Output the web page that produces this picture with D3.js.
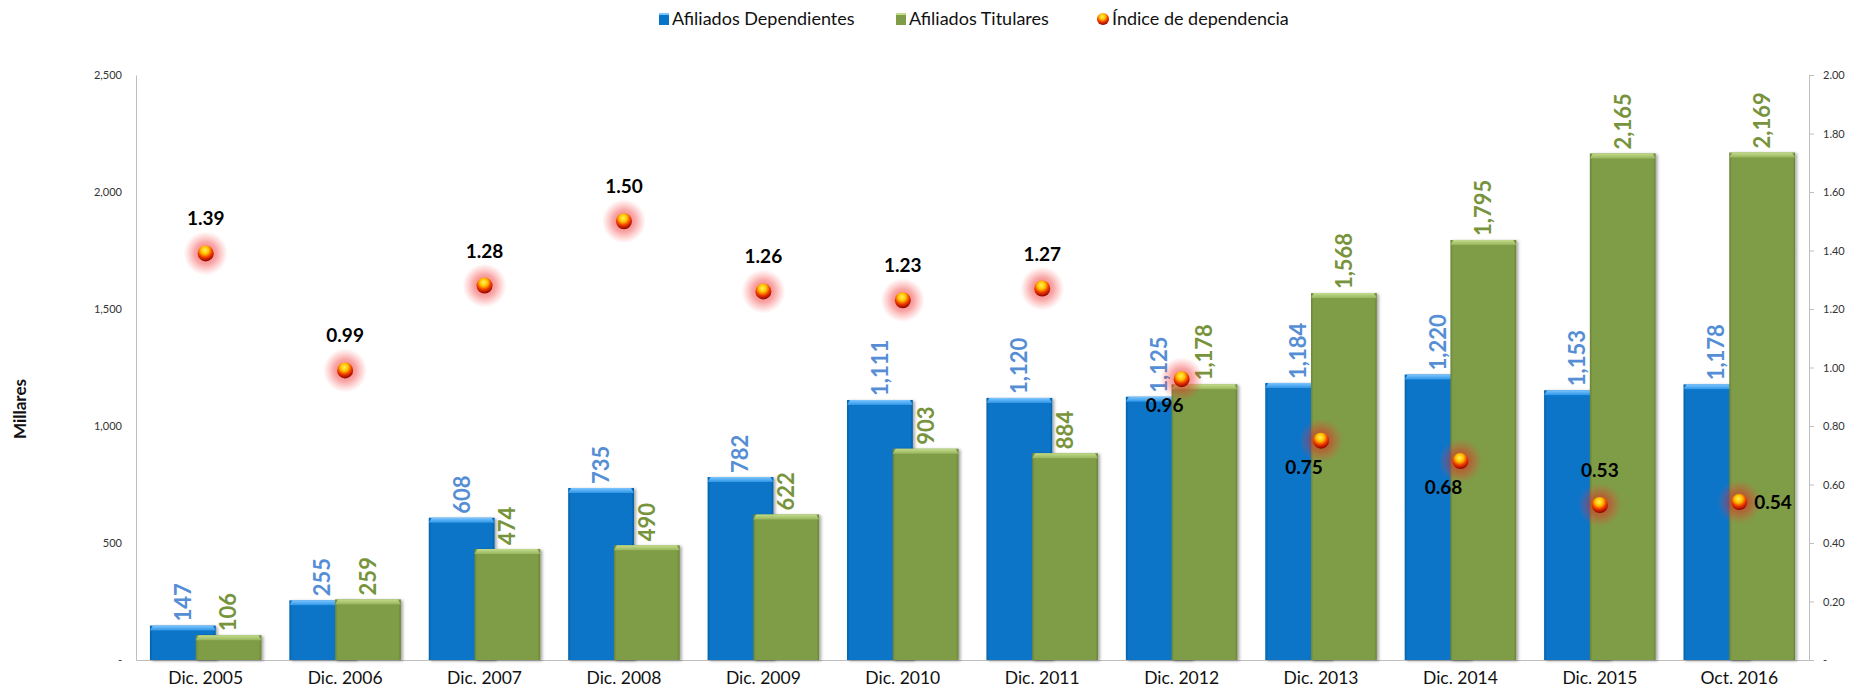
<!DOCTYPE html>
<html>
<head>
<meta charset="utf-8">
<script src="https://cdn.jsdelivr.net/npm/d3@7"></script>
<style>
  body { margin: 0; background: #fff; }
  svg { display: block; font-family: Lato, "Open Sans", sans-serif; }
</style>
</head>
<body>
<svg id="chart" width="1860" height="696"></svg>
<script>
// data
const categories = ["Dic. 2005", "Dic. 2006", "Dic. 2007", "Dic. 2008", "Dic. 2009", "Dic. 2010",
  "Dic. 2011", "Dic. 2012", "Dic. 2013", "Dic. 2014", "Dic. 2015", "Oct. 2016"];
const dependientes = [147, 255, 608, 735, 782, 1111, 1120, 1125, 1184, 1220, 1153, 1178];
const titulares = [106, 259, 474, 490, 622, 903, 884, 1178, 1568, 1795, 2165, 2169];
const indice = [1.39, 0.99, 1.28, 1.50, 1.26, 1.23, 1.27, 0.96, 0.75, 0.68, 0.53, 0.54];
const indiceLabelSide = ["top", "top", "top", "top", "top", "top", "top", "bottom", "bottom", "bottom", "top", "right"];
const leftTicks = [0, 500, 1000, 1500, 2000, 2500];
const rightTicks = [0, 0.2, 0.4, 0.6, 0.8, 1.0, 1.2, 1.4, 1.6, 1.8, 2.0];

const blue = "#0774C8", green = "#7F9C46";
const blueLbl = "#558ED5", greenLbl = "#77933C";

const svg = d3.select("#chart");
const plotL = 136, plotR = 1809, plotT = 75, plotB = 660;

const x = d3.scaleBand().domain(categories).range([plotL, plotR]).paddingInner(0.2).paddingOuter(0.1);
const y = d3.scaleLinear().domain([0, 2500]).range([plotB, plotT]);
const y2 = d3.scaleLinear().domain([0, 2]).range([plotB, plotT]);
const barW = x.bandwidth() * 0.59;

// gradients
const defs = svg.append("defs");
function sideGrad(id, c) {
  const g = defs.append("linearGradient").attr("id", id).attr("x1", 0).attr("x2", 1).attr("y1", 0).attr("y2", 0);
  const dk = d3.color(c).darker(0.5);
  g.append("stop").attr("offset", "0%").attr("stop-color", dk);
  g.append("stop").attr("offset", "4%").attr("stop-color", c);
  g.append("stop").attr("offset", "96%").attr("stop-color", c);
  g.append("stop").attr("offset", "100%").attr("stop-color", dk);
}
sideGrad("gBlue", blue);
sideGrad("gGreen", green);
function topGrad(id, c1, c2) {
  const g = defs.append("linearGradient").attr("id", id).attr("x1", 0).attr("x2", 0).attr("y1", 0).attr("y2", 1);
  g.append("stop").attr("offset", "0%").attr("stop-color", c1);
  g.append("stop").attr("offset", "100%").attr("stop-color", c2);
}
topGrad("tBlue", "#7EC6FF", "#2E95E6");
topGrad("tGreen", "#C4DC8C", "#97B55C");

const ball = defs.append("radialGradient").attr("id", "ball").attr("cx", "45%").attr("cy", "30%").attr("r", "70%");
ball.append("stop").attr("offset", "0%").attr("stop-color", "#FFF45A");
ball.append("stop").attr("offset", "35%").attr("stop-color", "#FFC000");
ball.append("stop").attr("offset", "65%").attr("stop-color", "#F03A00");
ball.append("stop").attr("offset", "100%").attr("stop-color", "#8A0000");
const glow = defs.append("radialGradient").attr("id", "glow");
glow.append("stop").attr("offset", "0%").attr("stop-color", "#E01010").attr("stop-opacity", 0.6);
glow.append("stop").attr("offset", "50%").attr("stop-color", "#F02020").attr("stop-opacity", 0.4);
glow.append("stop").attr("offset", "100%").attr("stop-color", "#FF4040").attr("stop-opacity", 0);

const shadow = defs.append("filter").attr("id", "shadow").attr("x", "-10%").attr("y", "-10%").attr("width", "130%").attr("height", "120%");
shadow.append("feDropShadow").attr("dx", 2).attr("dy", 1).attr("stdDeviation", 1.5).attr("flood-color", "#000").attr("flood-opacity", 0.35);

// axes
const yAxis = d3.axisLeft(y).tickValues(leftTicks).tickSize(0).tickPadding(14)
  .tickFormat(d => d === 0 ? "-" : d3.format(",")(d));
svg.append("g").attr("transform", `translate(${plotL},0)`).call(yAxis)
  .call(g => g.select(".domain").attr("stroke", "#BFBFBF"))
  .call(g => g.selectAll("text").attr("font-size", 11).attr("fill", "#333").attr("font-family", "Lato, sans-serif"));

const y2Axis = d3.axisRight(y2).tickValues(rightTicks).tickSize(5).tickPadding(9)
  .tickFormat(d => d === 0 ? "-" : d3.format(".2f")(d));
svg.append("g").attr("transform", `translate(${plotR},0)`).call(y2Axis)
  .call(g => g.select(".domain").attr("stroke", "#BFBFBF"))
  .call(g => g.selectAll(".tick line").attr("stroke", "#BFBFBF"))
  .call(g => g.selectAll("text").attr("font-size", 11).attr("fill", "#333").attr("font-family", "Lato, sans-serif"));

const xAxis = d3.axisBottom(x).tickSize(0).tickPadding(12);
svg.append("g").attr("transform", `translate(0,${plotB})`).call(xAxis)
  .call(g => g.select(".domain").attr("stroke", "#BFBFBF"))
  .call(g => g.selectAll("text").attr("font-size", 17.5).attr("fill", "#111").attr("font-family", "Lato, sans-serif"));

// bars
function drawBars(values, cls, fill, topFill, offset) {
  const g = svg.append("g").attr("class", cls);
  const bars = g.selectAll("g").data(values).join("g").attr("filter", "url(#shadow)");
  bars.append("rect")
    .attr("x", (d, i) => x(categories[i]) + offset)
    .attr("y", d => y(d))
    .attr("width", barW)
    .attr("height", d => plotB - y(d))
    .attr("fill", fill);
  bars.append("path")
    .attr("d", (d, i) => {
      const x0 = x(categories[i]) + offset, y0 = y(d);
      return `M${x0},${y0 + 5}L${x0 + 3},${y0}L${x0 + barW - 3},${y0}L${x0 + barW},${y0 + 5}Z`;
    })
    .attr("fill", topFill);
}
drawBars(dependientes, "dep", "url(#gBlue)", "url(#tBlue)", 0);
drawBars(titulares, "tit", "url(#gGreen)", "url(#tGreen)", x.bandwidth() - barW);

// value labels
function drawLabels(values, color, offset) {
  svg.append("g").selectAll("text").data(values).join("text")
    .attr("transform", (d, i) => `translate(${x(categories[i]) + offset + barW / 2},${y(d) - 4}) rotate(-90)`)
    .attr("dy", "0.36em")
    .attr("font-size", 22).attr("font-weight", "bold").attr("fill", color)
    .text(d => d3.format(",")(d));
}
drawLabels(dependientes, blueLbl, 0);
drawLabels(titulares, greenLbl, x.bandwidth() - barW);

// index dots
const cx = i => x(categories[i]) + x.bandwidth() / 2;
const dots = svg.append("g").selectAll("g").data(indice).join("g")
  .attr("transform", (d, i) => `translate(${cx(i)},${y2(d)})`);
dots.append("circle").attr("r", 22).attr("fill", "url(#glow)");
dots.append("circle").attr("r", 8).attr("fill", "url(#ball)");

svg.append("g").selectAll("text").data(indice).join("text")
  .attr("x", (d, i) => cx(i) + (indiceLabelSide[i] === "bottom" ? -17 : indiceLabelSide[i] === "right" ? 15 : 0))
  .attr("y", (d, i) => y2(d) + (indiceLabelSide[i] === "bottom" ? 33 : indiceLabelSide[i] === "right" ? 7 : -28))
  .attr("text-anchor", (d, i) => indiceLabelSide[i] === "right" ? "start" : "middle")
  .attr("font-size", 19).attr("font-weight", "bold").attr("fill", "#000")
  .text(d => d.toFixed(2));

// y axis title
svg.append("text")
  .attr("transform", "translate(20,409) rotate(-90)")
  .attr("dy", "0.35em").attr("text-anchor", "middle")
  .attr("font-size", 17).attr("font-weight", "bold").attr("fill", "#111")
  .text("Millares");

// legend
const legend = svg.append("g").attr("transform", "translate(0,19)");
const legItems = [
  {name: "Afiliados Dependientes", x: 659, kind: "blue"},
  {name: "Afiliados Titulares", x: 896, kind: "green"},
  {name: "Índice de dependencia", x: 1098, kind: "ball"}
];
legItems.forEach(it => {
  if (it.kind === "ball") {
    legend.append("circle").attr("cx", it.x + 5).attr("cy", 0).attr("r", 6).attr("fill", "url(#ball)");
    legend.append("text").attr("x", it.x + 14).attr("dy", "0.36em").attr("font-size", 18).attr("fill", "#111").text(it.name);
  } else {
    legend.append("rect").attr("x", it.x).attr("y", -6).attr("width", 10).attr("height", 12)
      .attr("fill", it.kind === "blue" ? "url(#gBlue)" : "url(#gGreen)");
    legend.append("rect").attr("x", it.x).attr("y", -6).attr("width", 10).attr("height", 2)
      .attr("fill", it.kind === "blue" ? "#7EC6FF" : "#C4DC8C");
    legend.append("text").attr("x", it.x + 13).attr("dy", "0.36em").attr("font-size", 18).attr("fill", "#111").text(it.name);
  }
});
</script>
</body>
</html>
